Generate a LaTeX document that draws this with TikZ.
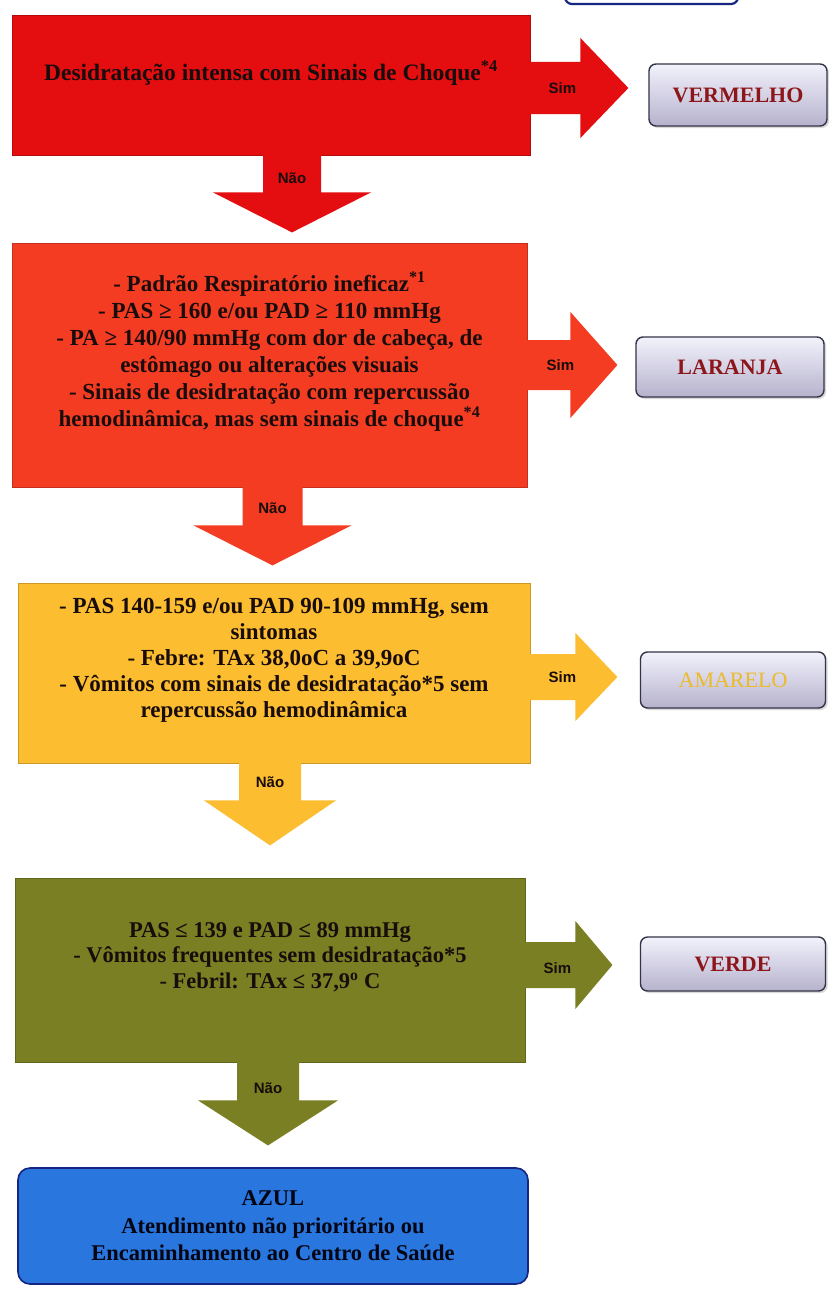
\documentclass[tikz,border=0pt]{standalone}
\usepackage{fontspec}
\setmainfont{Liberation Serif}
\newfontfamily\labfont{Liberation Sans}
\usetikzlibrary{calc,shadows}
\definecolor{cred}{RGB}{228,14,16}
\definecolor{corange}{RGB}{244,60,34}
\definecolor{cyellow}{RGB}{252,190,48}
\definecolor{colive}{RGB}{121,127,34}
\definecolor{cblue}{RGB}{40,118,222}
\definecolor{cnavy}{RGB}{22,36,130}
\definecolor{ctxt}{RGB}{25,12,12}
\definecolor{cres}{RGB}{140,22,26}
\definecolor{cgold}{RGB}{236,186,42}
\definecolor{lavtop}{RGB}{242,242,252}
\definecolor{lavbot}{RGB}{182,178,204}
\definecolor{resborder}{RGB}{52,52,72}
\tikzset{
  crit/.style={draw=#1!80!black, line width=0.8pt, fill=#1, rectangle, inner sep=0pt},
  crittext/.style={align=center, font=\bfseries\fontsize{23}{27}\selectfont, text=ctxt, inner sep=0pt},
  result/.style={draw=resborder, line width=1.4pt, rounded corners=7pt, top color=lavtop,
    bottom color=lavbot, minimum width=185pt, minimum height=62pt,
    font=\bfseries\fontsize{22}{25}\selectfont, text=cres,
    drop shadow={shadow xshift=2pt, shadow yshift=-2pt, opacity=0.3}},
  lab/.style={font=\labfont\bfseries\fontsize{15}{17}\selectfont, text=ctxt, inner sep=0pt},
}
% right fat arrow: colour, start coord, shaft length, head length, half shaft, half head
\newcommand{\rfat}[6]{\fill[#1] ($(#2)+(-2,-#5)$) -- ($(#2)+(#3,-#5)$) -- ($(#2)+(#3,-#6)$)
  -- ($(#2)+(#3+#4,0)$) -- ($(#2)+(#3,#6)$) -- ($(#2)+(#3,#5)$) -- ($(#2)+(-2,#5)$) -- cycle;}
% down fat arrow: colour, start coord, shaft length, head length, half shaft, half head
\newcommand{\dfat}[6]{\fill[#1] ($(#2)+(-#5,-2)$) -- ($(#2)+(-#5,#3)$) -- ($(#2)+(-#6,#3)$)
  -- ($(#2)+(0,#3+#4)$) -- ($(#2)+(#6,#3)$) -- ($(#2)+(#5,#3)$) -- ($(#2)+(#5,-2)$) -- cycle;}
\begin{document}
\begin{tikzpicture}[x=1pt,y=-1pt]
\useasboundingbox (0,0) rectangle (828,1290);
\fill[white] (0,0) rectangle (828,1290);
% partial box at the top edge
\draw[cnavy, line width=2.2pt, rounded corners=7pt, fill=white] (565,-40) rectangle (738,4);

% criteria boxes
\node[crit=cred, minimum width=518pt, minimum height=140pt] (b1) at (271,85) {};
\node[crittext, font=\bfseries\fontsize{23.5}{27}\selectfont] (t1) at ($(b1.center)+(0,-12)$)
  {Desidratação intensa com Sinais de Choque\textsuperscript{*4}};
\node[crit=corange, minimum width=515pt, minimum height=244pt] (b2) at (269.5,365) {};
\node[crittext] (t2) at ($(b2.center)+(0,-13)$)
  {- Padrão Respiratório ineficaz\textsuperscript{*1}\\
   - PAS ≥ 160 e/ou PAD ≥ 110 mmHg\\
   - PA ≥ 140/90 mmHg com dor de cabeça, de\\
   estômago ou alterações visuais\\
   - Sinais de desidratação com repercussão\\
   hemodinâmica, mas sem sinais de choque\textsuperscript{*4}};
\node[crit=cyellow, minimum width=512pt, minimum height=180pt] (b3) at (274,673) {};
\node[crittext, font=\bfseries\fontsize{23}{26}\selectfont] (t3) at ($(b3.center)+(0,-13)$)
  {- PAS 140-159 e/ou PAD 90-109 mmHg, sem\\
   sintomas\\
   - Febre: TAx 38,0oC a 39,9oC\\
   - Vômitos com sinais de desidratação*5 sem\\
   repercussão hemodinâmica};
\node[crit=colive, minimum width=510pt, minimum height=184pt] (b4) at (270,970) {};
\node[crittext, font=\bfseries\fontsize{22.5}{25.5}\selectfont] (t4) at ($(b4.center)+(0,-13)$)
  {PAS ≤ 139 e PAD ≤ 89 mmHg\\
   - Vômitos frequentes sem desidratação*5\\
   - Febril: TAx ≤ 37,9\textsuperscript{o} C};
\node[draw=cnavy, line width=1.6pt, fill=cblue, rounded corners=12pt, minimum width=510pt,
  minimum height=116pt, align=center, text=black!85!cnavy,
  font=\bfseries\fontsize{22.5}{27.5}\selectfont] (azul) at (273,1226)
  {AZUL\\Atendimento não prioritário ou\\Encaminhamento ao Centro de Saúde};

% result boxes
\node[result, minimum width=178pt] (r1) at (738,95) {VERMELHO};
\node[result, minimum width=188pt, minimum height=60pt] (r2) at (730,367) {LARANJA};
\node[result, text=cgold, minimum height=56pt, font=\fontsize{22}{25}\selectfont] (r3) at (733,680) {AMARELO};
\node[result, minimum height=54pt] (r4) at (733,964) {VERDE};

% yes arrows
\coordinate (a1) at ($(b1.east)+(0,3)$);
\rfat{cred}{a1}{50}{48}{26}{50}
\node[lab] (s1) at ($(a1)+(32,0)$) {Sim};
\coordinate (a2) at ($(b2.east)+(0,0)$);
\rfat{corange}{a2}{43}{47}{25}{53}
\node[lab] (s2) at ($(a2)+(33,0)$) {Sim};
\coordinate (a3) at ($(b3.east)+(0,4)$);
\rfat{cyellow}{a3}{45}{42}{23}{44}
\node[lab] (s3) at ($(a3)+(32,0)$) {Sim};
\coordinate (a4) at ($(b4.east)+(0,-5)$);
\rfat{colive}{a4}{50}{37}{23}{44}
\node[lab] (s4) at ($(a4)+(32,3)$) {Sim};

% no arrows
\coordinate (d1) at ($(b1.south)+(21,0)$);
\dfat{cred}{d1}{37}{40}{29}{79}
\node[lab] (n1) at ($(d1)+(0,23)$) {Não};
\coordinate (d2) at ($(b2.south)+(3,0)$);
\dfat{corange}{d2}{38}{40}{30}{79}
\node[lab] (n2) at ($(d2)+(0,21)$) {Não};
\coordinate (d3) at ($(b3.south)+(-4,0)$);
\dfat{cyellow}{d3}{37}{45}{31}{66}
\node[lab] (n3) at ($(d3)+(0,19)$) {Não};
\coordinate (d4) at ($(b4.south)+(-2,0)$);
\dfat{colive}{d4}{38}{45}{31}{70}
\node[lab] (n4) at ($(d4)+(0,26)$) {Não};
\end{tikzpicture}
\end{document}
